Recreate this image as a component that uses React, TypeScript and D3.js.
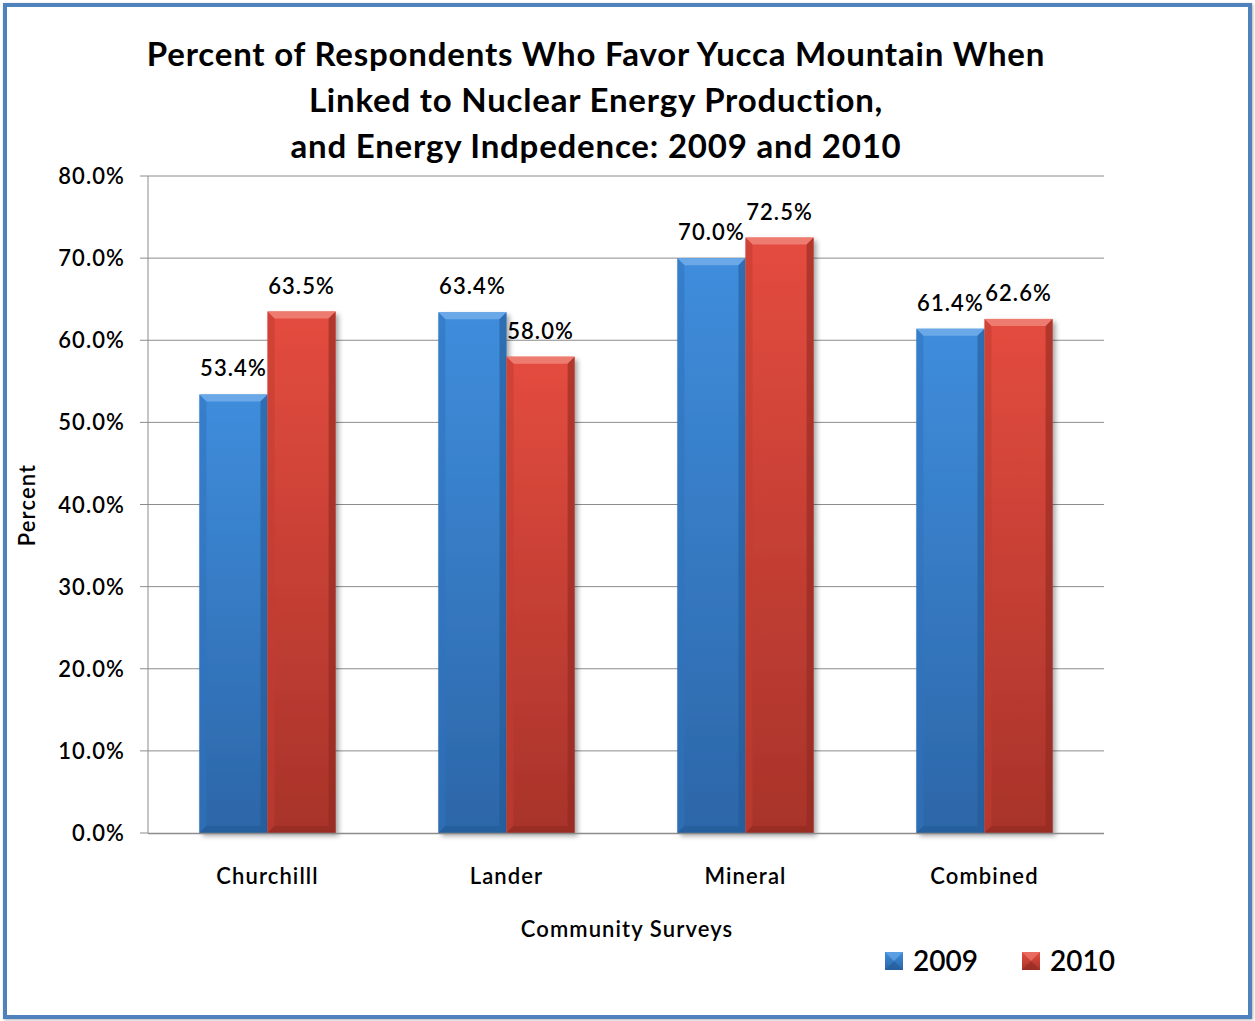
import React from "react";
import * as d3 from "d3";

const categories = ["Churchilll", "Lander", "Mineral", "Combined"];
const seriesNames = ["2009", "2010"];
const values2009 = [53.4, 63.4, 70.0, 61.4];
const values2010 = [63.5, 58.0, 72.5, 62.6];
const yTicks = [0, 10, 20, 30, 40, 50, 60, 70, 80];
const titleLines = [
  "Percent of Respondents Who Favor Yucca Mountain When",
  "Linked to Nuclear Energy Production,",
  "and Energy Indpedence: 2009 and 2010",
];

const W = 1255;
const H = 1021;
const FONT = "Lato, 'Open Sans', sans-serif";

const palettes = [
  { top: "#3f8ddc", bottom: "#2c66a8", light: "#6aa8e8", dark: "#235a96", edge: "#2f72bd" },
  { top: "#e44c3f", bottom: "#a8332a", light: "#ee7b6f", dark: "#8f2a22", edge: "#c23d31" },
];

const small = { fontFamily: FONT, fontSize: 22, fontWeight: 600, letterSpacing: 1.1, fill: "#000" } as const;

export default function App() {
  const x0 = d3.scaleBand().domain(categories).range([148, 1104]).paddingInner(0.43).paddingOuter(0.215);
  const x1 = d3.scaleBand().domain(seriesNames).range([0, x0.bandwidth()]).padding(0);
  const y = d3.scaleLinear().domain([0, 80]).range([833, 176]);
  const series = [values2009, values2010];
  const b = 7;

  return (
    <svg width={W} height={H} style={{ position: "absolute", left: 0, top: 0, background: "#fff" }}>
      <defs>
        {palettes.map((p, i) => (
          <linearGradient key={i} id={`g${i}`} x1="0" y1="0" x2="0" y2="1">
            <stop offset="0%" stopColor={p.top} />
            <stop offset="100%" stopColor={p.bottom} />
          </linearGradient>
        ))}
        <filter id="sh" x="-20%" y="-5%" width="140%" height="115%">
          <feDropShadow dx="3" dy="3" stdDeviation="2.5" floodColor="#000" floodOpacity="0.35" />
        </filter>
        <filter id="fsh" x="-5%" y="-5%" width="110%" height="110%">
          <feDropShadow dx="1" dy="1" stdDeviation="1.5" floodColor="#000" floodOpacity="0.3" />
        </filter>
      </defs>
      <rect x={5} y={5} width={1245} height={1012} fill="#fff" stroke="#4f81bd" strokeWidth={4} filter="url(#fsh)" />

      {titleLines.map((t, i) => (
        <text key={i} x={596} y={66 + i * 46} textAnchor="middle" fontFamily={FONT} fontWeight={700} fontSize={33} letterSpacing={0.8} fill="#000">
          {t}
        </text>
      ))}

      {yTicks.map((t) => (
        <g key={t}>
          {t > 0 && <line x1={148} x2={1104} y1={y(t)} y2={y(t)} stroke="#8c8c8c" strokeWidth={1} />}
          <line x1={140} x2={148} y1={y(t)} y2={y(t)} stroke="#8c8c8c" strokeWidth={1} />
          <text x={125} y={y(t) + 8} textAnchor="end" {...small}>
            {t.toFixed(1)}%
          </text>
        </g>
      ))}
      <line x1={148} x2={148} y1={176} y2={833} stroke="#8c8c8c" strokeWidth={1} />

      {categories.map((c, ci) =>
        series.map((vals, si) => {
          const bx = (x0(c) as number) + (x1(seriesNames[si]) as number);
          const bw = x1.bandwidth();
          const by = y(vals[ci]);
          const bh = y(0) - by;
          const p = palettes[si];
          return (
            <g key={c + si}>
              <rect x={bx} y={by} width={bw} height={bh} fill={`url(#g${si})`} filter="url(#sh)" />
              <polygon points={`${bx},${by} ${bx + bw},${by} ${bx + bw - b},${by + b} ${bx + b},${by + b}`} fill={p.light} />
              <polygon points={`${bx},${by} ${bx + b},${by + b} ${bx + b},${by + bh - b} ${bx},${by + bh}`} fill={p.edge} opacity={0.55} />
              <polygon points={`${bx + bw},${by} ${bx + bw - b},${by + b} ${bx + bw - b},${by + bh - b} ${bx + bw},${by + bh}`} fill={p.dark} opacity={0.6} />
              <polygon points={`${bx},${by + bh} ${bx + b},${by + bh - b} ${bx + bw - b},${by + bh - b} ${bx + bw},${by + bh}`} fill={p.dark} opacity={0.6} />
              <text x={bx + bw / 2} y={by - 18} textAnchor="middle" {...small}>
                {vals[ci].toFixed(1)}%
              </text>
            </g>
          );
        })
      )}
      <line x1={148} x2={1104} y1={833.5} y2={833.5} stroke="#8c8c8c" strokeWidth={1.5} />

      {categories.map((c) => (
        <text key={c} x={(x0(c) as number) + x0.bandwidth() / 2} y={884} textAnchor="middle" {...small}>
          {c}
        </text>
      ))}
      <text x={627} y={937} textAnchor="middle" {...small}>
        Community Surveys
      </text>
      <text transform="translate(35,505) rotate(-90)" textAnchor="middle" {...small}>
        Percent
      </text>

      {seriesNames.map((s, i) => {
        const lx = 885 + i * 137;
        const p = palettes[i];
        return (
          <g key={s}>
            <rect x={lx} y={952} width={18} height={18} fill={`url(#g${i})`} />
            <polygon points={`${lx},${952} ${lx + 18},${952} ${lx + 9},${961}`} fill={p.light} opacity={0.7} />
            <polygon points={`${lx},${970} ${lx + 18},${970} ${lx + 9},${961}`} fill={p.dark} opacity={0.6} />
            <text x={lx + 28} y={971} fontFamily={FONT} fontSize={28} fontWeight={600} fill="#000">
              {s}
            </text>
          </g>
        );
      })}
    </svg>
  );
}
